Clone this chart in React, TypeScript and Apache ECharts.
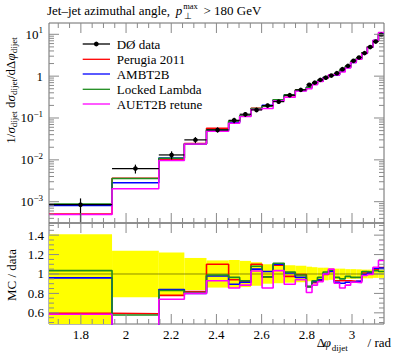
import React, { useEffect, useRef } from "react";
import * as echarts from "echarts";

// ---------- data ----------
const binEdges = [
  1.659, 1.938, 2.145, 2.258, 2.356, 2.454, 2.503, 2.553, 2.602, 2.651, 2.7,
  2.749, 2.798, 2.823, 2.847, 2.872, 2.896, 2.921, 2.945, 2.97, 2.994, 3.019,
  3.043, 3.068, 3.093, 3.117, 3.1416,
];

const dataValues = [
  0.00085, 0.0062, 0.0131, 0.03, 0.052, 0.088, 0.123, 0.156, 0.198, 0.246,
  0.351, 0.47, 0.62, 0.7, 0.815, 0.92, 1.03, 1.18, 1.47, 1.76, 2.32, 2.79,
  3.55, 4.94, 6.7, 9.7,
];
// relative data uncertainties (yellow band)
const dataErrUp = [
  0.41, 0.24, 0.22, 0.165, 0.14, 0.145, 0.135, 0.12, 0.1, 0.095, 0.09, 0.085,
  0.075, 0.07, 0.065, 0.065, 0.06, 0.055, 0.055, 0.05, 0.05, 0.048, 0.045,
  0.045, 0.04, 0.04,
];
const dataErrDown = [
  0.62, 0.24, 0.22, 0.165, 0.14, 0.145, 0.135, 0.12, 0.1, 0.095, 0.09, 0.085,
  0.075, 0.07, 0.065, 0.065, 0.06, 0.055, 0.055, 0.05, 0.05, 0.048, 0.045,
  0.045, 0.04, 0.04,
];

// MC / data ratios
const ratioPerugia2011 = [
  0.595, 0.59, 0.78, 0.82, 1.1, 0.94, 0.92, 1.1, 0.97, 1.09, 0.975, 0.995,
  0.87, 0.91, 0.93, 0.995, 1.03, 0.93, 0.93, 0.93, 0.925, 0.925, 1.01, 1.015,
  1.045, 1.065,
];
const ratioAMBT2B = [
  0.96, 0.46, 0.84, 0.8, 0.98, 0.895, 0.915, 1.05, 1.025, 1.1, 1.01, 0.965,
  0.87, 0.92, 0.94, 1.005, 1.025, 0.915, 0.905, 0.915, 0.915, 0.925, 0.995,
  1.01, 1.06, 1.06,
];
const ratioLockedLambda = [
  1.035, 0.578, 0.83, 0.81, 0.99, 0.965, 0.93, 1.08, 0.97, 1.11, 1.02, 0.99,
  0.87, 0.93, 0.965, 1.02, 1.04, 0.965, 0.95, 0.975, 0.965, 0.965, 1.025,
  1.02, 1.035, 1.025,
];
const ratioAUET2B = [
  0.585, 0.33, 0.74, 0.8, 0.93, 0.855, 0.885, 1.03, 0.855, 1.035, 0.895, 0.94,
  0.81, 0.885, 0.92, 1.0, 1.05, 0.905, 0.855, 0.885, 0.915, 0.91, 0.985,
  0.995, 1.07, 1.14,
];

const dataName = "DØ data";
const mcNames = ["Perugia 2011", "AMBT2B", "Locked Lambda", "AUET2B retune"];
const mcColors = ["#ff0000", "#0000ff", "#1e8c1e", "#ff00ff"];
const mcRatios = [ratioPerugia2011, ratioAMBT2B, ratioLockedLambda, ratioAUET2B];

const xTickLabels = [1.8, 2, 2.2, 2.4, 2.6, 2.8, 3];
const yTopTickLabels = [-3, -2, -1, 0, 1]; // log10 of value
const yRatioTickLabels = [0.6, 0.8, 1, 1.2, 1.4];

// ---------- axis ranges ----------
const X_MIN = 1.659;
const X_MAX = Math.PI;
const YT_MIN = -3.509;
const YT_MAX = 1.27;
const YR_MIN = 0.485;
const YR_MAX = 1.525;

const FONT = "Liberation Serif";
const FRAME = "#6a6a6a";
const TICK = "#8a8a8a";

// tick positions
const xMinorTicks: number[] = [];
for (let k = 30; k <= 63; k++) {
  const v = k * 0.05;
  if (v > X_MIN && v < X_MAX && k % 4 !== 0) xMinorTicks.push(v);
}
const yTopMinorTicks: number[] = [];
for (let n = -4; n <= 1; n++) {
  for (let m = 2; m <= 9; m++) {
    const v = n + Math.log10(m);
    if (v > YT_MIN && v < YT_MAX) yTopMinorTicks.push(v);
  }
}
const yRatioMinorTicks: number[] = [];
for (let k = 9; k <= 31; k++) {
  const v = k / 20;
  if (v > YR_MIN && v < YR_MAX && k % 4 !== 0) yRatioMinorTicks.push(v);
}

function stepPoints(vals: number[]) {
  const pts: number[][] = [];
  vals.forEach((v, i) => {
    pts.push([binEdges[i], v]);
    pts.push([binEdges[i + 1], v]);
  });
  return pts;
}

function makeTickRenderer(
  xMaj: number[],
  xMin: number[],
  yMaj: number[],
  yMin: number[],
  yLo: number,
  yHi: number
) {
  return (_params: any, api: any) => {
    const c0 = api.coord([X_MIN, yLo]);
    const c1 = api.coord([X_MAX, yHi]);
    const left = c0[0];
    const bottom = c0[1];
    const right = c1[0];
    const top = c1[1];
    const children: any[] = [];
    const seg = (x1: number, y1: number, x2: number, y2: number) =>
      children.push({
        type: "line",
        shape: { x1, y1, x2, y2 },
        style: { stroke: TICK, lineWidth: 1 },
      });
    const xt = (vals: number[], len: number) =>
      vals.forEach((v) => {
        const px = api.coord([v, yLo])[0];
        seg(px, bottom, px, bottom - len);
        seg(px, top, px, top + len);
      });
    const yt = (vals: number[], len: number) =>
      vals.forEach((v) => {
        const py = api.coord([X_MIN, v])[1];
        seg(left, py, left + len, py);
        seg(right, py, right - len, py);
      });
    xt(xMaj, 10);
    xt(xMin, 5);
    yt(yMaj, 10);
    yt(yMin, 5);
    return { type: "group", children };
  };
}

const supRich = {
  sup: { fontSize: 9, fontFamily: FONT, padding: [0, 0, 8, 0], verticalAlign: "middle" },
};
const textRich = {
  n: { fontSize: 13, fontFamily: FONT, verticalAlign: "middle" },
  it: { fontSize: 13, fontFamily: FONT, fontStyle: "italic", verticalAlign: "middle" },
  sub: { fontSize: 9, fontFamily: FONT, padding: [7, 0, 0, 0], verticalAlign: "middle" },
};

function txt(x: number, y: number, text: string, size: number, extra: any = {}) {
  return {
    type: "text",
    x,
    y,
    style: {
      text,
      fontFamily: FONT,
      fontSize: size,
      lineHeight: size,
      fill: "#000",
      verticalAlign: "middle",
      ...extra,
    },
  };
}

export default function App() {
  const ref = useRef<HTMLDivElement>(null);

  useEffect(() => {
    if (!ref.current) return;
    const chart = echarts.init(ref.current, undefined, { renderer: "svg" });

    const mcTopSeries = mcRatios.map((r, j) => ({
      type: "line",
      name: mcNames[j],
      xAxisIndex: 0,
      yAxisIndex: 0,
      data: stepPoints(r.map((q, i) => Math.log10(dataValues[i] * q))),
      showSymbol: false,
      symbol: "none",
      lineStyle: { color: mcColors[j], width: 1.5 },
      silent: true,
      z: 3 + j,
    }));
    const mcRatioSeries = mcRatios.map((r, j) => ({
      type: "line",
      name: mcNames[j] + " ratio",
      xAxisIndex: 1,
      yAxisIndex: 1,
      data: stepPoints(r),
      showSymbol: false,
      symbol: "none",
      lineStyle: { color: mcColors[j], width: 1.6 },
      silent: true,
      z: 3 + j,
    }));

    const dataItems = dataValues.map((v, i) => [
      binEdges[i],
      binEdges[i + 1],
      Math.log10(v),
      Math.log10(v * (1 - dataErrDown[i])),
      Math.log10(v * (1 + dataErrUp[i])),
    ]);
    const bandItems = dataValues.map((_v, i) => [
      binEdges[i],
      binEdges[i + 1],
      Math.max(1 - dataErrDown[i], YR_MIN),
      Math.min(1 + dataErrUp[i], YR_MAX),
    ]);

    const legendRows = [44, 59.3, 74, 89.3, 104];
    const legendGraphics: any[] = [];
    legendGraphics.push({
      type: "line",
      shape: { x1: 82.7, y1: legendRows[0], x2: 110, y2: legendRows[0] },
      style: { stroke: "#000", lineWidth: 1.3 },
    });
    legendGraphics.push({
      type: "circle",
      shape: { cx: 96.3, cy: legendRows[0], r: 2.4 },
      style: { fill: "#000" },
    });
    legendGraphics.push(txt(116.7, legendRows[0], dataName, 13));
    mcNames.forEach((nm, j) => {
      legendGraphics.push({
        type: "line",
        shape: { x1: 82.7, y1: legendRows[j + 1], x2: 110, y2: legendRows[j + 1] },
        style: { stroke: mcColors[j], lineWidth: 1.3 },
      });
      legendGraphics.push(txt(116.7, legendRows[j + 1], nm, 13));
    });

    const option: any = {
      animation: false,
      grid: [
        { left: 49, top: 23, width: 335, height: 200, show: true, borderColor: FRAME, borderWidth: 1, backgroundColor: "transparent" },
        { left: 49, top: 223, width: 335, height: 101, show: true, borderColor: FRAME, borderWidth: 1, backgroundColor: "transparent" },
      ],
      xAxis: [
        {
          type: "value",
          gridIndex: 0,
          min: X_MIN,
          max: X_MAX,
          axisLine: { show: false },
          axisTick: { show: false },
          axisLabel: { show: false },
          splitLine: { show: false },
        },
        {
          type: "value",
          gridIndex: 1,
          min: X_MIN,
          max: X_MAX,
          axisLine: { show: false },
          axisTick: { show: false },
          splitLine: { show: false },
          axisLabel: {
            customValues: xTickLabels,
            formatter: (v: number) => String(Math.round(v * 10) / 10),
            fontFamily: FONT,
            fontSize: 13,
            lineHeight: 13,
            color: "#000",
            margin: 4,
          },
        },
      ],
      yAxis: [
        {
          type: "value",
          gridIndex: 0,
          min: YT_MIN,
          max: YT_MAX,
          axisLine: { show: false },
          axisTick: { show: false },
          splitLine: { show: false },
          axisLabel: {
            customValues: yTopTickLabels,
            formatter: (v: number) => {
              const n = Math.round(v);
              if (n === 0) return "1";
              return "10{sup|" + (n < 0 ? "−" + -n : String(n)) + "}";
            },
            rich: supRich,
            fontFamily: FONT,
            fontSize: 13,
            color: "#000",
            margin: 6,
          },
        },
        {
          type: "value",
          gridIndex: 1,
          min: YR_MIN,
          max: YR_MAX,
          axisLine: { show: false },
          axisTick: { show: false },
          splitLine: { show: false },
          axisLabel: {
            customValues: yRatioTickLabels,
            formatter: (v: number) => String(Math.round(v * 10) / 10),
            fontFamily: FONT,
            fontSize: 13,
            lineHeight: 13,
            color: "#000",
            margin: 5,
          },
        },
      ],
      series: [
        // yellow data-uncertainty band in ratio panel
        {
          type: "custom",
          name: "band",
          xAxisIndex: 1,
          yAxisIndex: 1,
          data: bandItems,
          encode: { x: [0, 1], y: [2, 3] },
          clip: true,
          silent: true,
          z: 1,
          renderItem: (_p: any, api: any) => {
            const a = api.coord([api.value(0), api.value(3)]);
            const b = api.coord([api.value(1), api.value(2)]);
            return {
              type: "rect",
              shape: { x: a[0], y: a[1], width: b[0] - a[0], height: b[1] - a[1] },
              style: { fill: "#ffff00" },
            };
          },
        },
        // reference line at 1
        {
          type: "line",
          name: "ref",
          xAxisIndex: 1,
          yAxisIndex: 1,
          data: [
            [X_MIN, 1],
            [X_MAX, 1],
          ],
          showSymbol: false,
          symbol: "none",
          lineStyle: { color: "rgba(0,0,0,0.45)", width: 1 },
          silent: true,
          z: 2,
        },
        ...mcTopSeries,
        ...mcRatioSeries,
        // data points with error bars
        {
          type: "custom",
          name: dataName,
          xAxisIndex: 0,
          yAxisIndex: 0,
          data: dataItems,
          encode: { x: [0, 1], y: [2, 3, 4] },
          clip: true,
          silent: true,
          z: 10,
          renderItem: (_p: any, api: any) => {
            const pLo = api.coord([api.value(0), api.value(2)]);
            const pHi = api.coord([api.value(1), api.value(2)]);
            const cx = (pLo[0] + pHi[0]) / 2;
            const e1 = api.coord([api.value(0), api.value(3)]);
            const e2 = api.coord([api.value(0), api.value(4)]);
            return {
              type: "group",
              children: [
                { type: "line", shape: { x1: pLo[0], y1: pLo[1], x2: pHi[0], y2: pHi[1] }, style: { stroke: "#000", lineWidth: 1.2 } },
                { type: "line", shape: { x1: cx, y1: e1[1], x2: cx, y2: e2[1] }, style: { stroke: "#000", lineWidth: 1.2 } },
                { type: "circle", shape: { cx, cy: pLo[1], r: 2.3 }, style: { fill: "#000" } },
              ],
            };
          },
        },
        // frame ticks, top panel
        {
          type: "custom",
          name: "ticksTop",
          xAxisIndex: 0,
          yAxisIndex: 0,
          data: [[2.4, 0]],
          encode: { x: 0, y: 1 },
          silent: true,
          z: 20,
          renderItem: makeTickRenderer(xTickLabels, xMinorTicks, yTopTickLabels, yTopMinorTicks, YT_MIN, YT_MAX),
        },
        // frame ticks, ratio panel
        {
          type: "custom",
          name: "ticksRatio",
          xAxisIndex: 1,
          yAxisIndex: 1,
          data: [[2.4, 1]],
          encode: { x: 0, y: 1 },
          silent: true,
          z: 20,
          renderItem: makeTickRenderer(xTickLabels, xMinorTicks, yRatioTickLabels, yRatioMinorTicks, YR_MIN, YR_MAX),
        },
      ],
      graphic: [
        // title
        txt(47, 10.6, "Jet–jet azimuthal angle,", 13),
        txt(175.8, 10.6, "p", 13, { fontStyle: "italic" }),
        txt(183.2, 6.3, "max", 8.5, { lineHeight: 8 }),
        txt(183.5, 15.8, "⊥", 8.5, { lineHeight: 8 }),
        txt(203.5, 10.6, "> 180 GeV", 13),
        // y title, top panel
        {
          type: "text",
          x: 10,
          y: 90.5,
          rotation: Math.PI / 2,
          style: {
            text: "{n|1/}{it|σ}{sub|dijet}{n| d}{it|σ}{sub|dijet}{n|/d}{n|Δ}{it|φ}{sub|dijet}",
            rich: textRich,
            align: "center",
            verticalAlign: "middle",
            fill: "#000",
          },
        },
        // y title, ratio panel
        {
          type: "text",
          x: 11,
          y: 275,
          rotation: Math.PI / 2,
          style: { text: "MC / data", fontFamily: FONT, fontSize: 13, fill: "#000", align: "center", verticalAlign: "middle" },
        },
        // x title
        txt(316.7, 342.5, "Δ", 13),
        txt(323.8, 342.5, "φ", 13, { fontStyle: "italic" }),
        txt(331.8, 347.5, "dijet", 9),
        txt(391, 342.5, "/ rad", 13, { align: "right" }),
        ...legendGraphics,
      ],
    };

    chart.setOption(option);
    return () => {
      chart.dispose();
    };
  }, []);

  return (
    <div
      ref={ref}
      style={{ position: "fixed", left: 0, top: 0, width: 397, height: 358, background: "#fff" }}
    />
  );
}
